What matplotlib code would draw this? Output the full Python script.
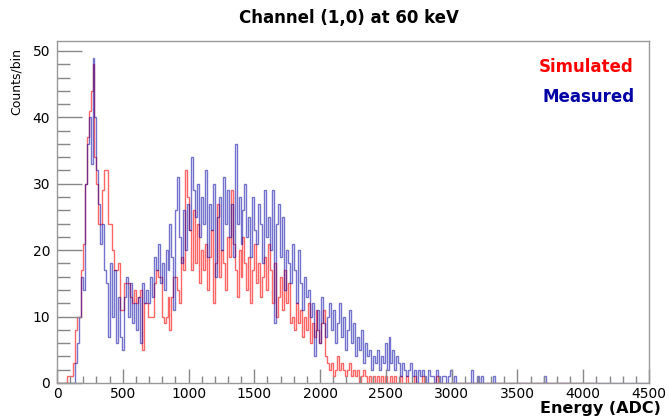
import numpy as np
import matplotlib
matplotlib.use("Agg")
import matplotlib.pyplot as plt
from matplotlib.ticker import MultipleLocator

# ---------------- data (counts per 15-ADC bin, starting at 0 ADC) ----------------
bin_width = 15
measured_counts = [
    0, 0, 0, 0, 0, 0, 0, 0, 0,
    3, 6, 10, 16, 14, 30, 36, 40, 33, 49,
    40, 32, 27, 21, 24, 17, 15, 7, 18, 10,
    17, 6, 13, 7, 5, 13, 16, 10, 15, 9,
    12, 8, 13, 6, 15, 12, 14, 12, 16, 13,
    19, 17, 21, 15, 18, 14, 20, 17, 24, 19,
    11, 26, 31, 22, 18, 26, 20, 27, 23, 34,
    29, 25, 30, 22, 28, 24, 32, 19, 27, 23,
    30, 16, 25, 28, 20, 31, 24, 29, 22, 27,
    19, 36, 24, 28, 21, 26, 30, 22, 25, 19,
    28, 23, 21, 27, 24, 18, 29, 22, 25, 20,
    29, 9, 24, 27, 19, 25, 14, 20, 18, 15,
    21, 17, 12, 20, 15, 11, 16, 13, 14, 10,
    12, 4, 8, 11, 6, 13, 9, 7, 10, 12,
    8, 11, 6, 9, 12, 7, 10, 5, 8, 11,
    6, 9, 4, 7, 5, 8, 3, 6, 4, 5,
    2, 4, 3, 5, 2, 4, 3, 6, 2, 7,
    3, 5, 2, 4, 3, 1, 3, 2, 1, 2,
    3, 1, 2, 0, 2, 1, 2, 1, 0, 2,
    1, 1, 0, 2, 1, 0, 1, 1, 0, 1,
    2, 0, 1, 0, 0, 0, 0, 0, 0, 0,
    0, 2, 0, 0, 1, 0, 1, 0, 0, 0,
    0, 0, 1, 0, 0, 0, 0, 0, 0, 0,
    0, 0, 0, 0, 0, 0, 0, 0, 0, 0,
    0, 0, 0, 0, 0, 0, 0, 0, 1, 0,
]
measured_range_max = 4500

simulated_counts = [
    0, 0, 0, 0, 0,
    1, 1, 1, 3, 8, 10, 10, 17, 21, 30,
    37, 41, 44, 48, 34, 30, 24, 24, 29, 32,
    32, 24, 24, 20, 17, 17, 18, 11, 11, 15,
    15, 15, 13, 12, 14, 12, 13, 14, 5, 12,
    12, 10, 10, 10, 15, 17, 16, 16, 10, 9,
    10, 13, 8, 13, 16, 16, 14, 12, 19, 17,
    32, 28, 23, 17, 26, 18, 24, 15, 20, 17,
    21, 14, 19, 23, 12, 18, 27, 16, 20, 18,
    14, 22, 19, 29, 21, 17, 13, 20, 16, 22,
    18, 14, 19, 12, 17, 21, 15, 18, 13, 16,
    19, 14, 21, 17, 12, 18, 10, 13, 16, 11,
    17, 12, 15, 9, 10, 8, 12, 9, 11, 7,
    10, 8, 12, 6, 9, 7, 11, 8, 6, 9,
    11, 4, 3, 2, 3, 1, 2, 4, 2, 3,
    2, 1, 2, 3, 1, 2, 1, 2, 0, 1,
    2, 1, 0, 1, 0, 1, 0, 1, 0, 1,
    0, 1, 0, 0, 1, 0, 1, 0, 0, 1,
    0, 0, 1, 0, 0, 0, 1, 0, 0, 0,
    1, 0, 0, 0, 0, 0, 0, 1, 0, 0,
]
simulated_range_max = 4110

title = "Channel (1,0) at 60 keV"
xlabel = "Energy (ADC)"
ylabel = "Counts/bin"
legend_labels = ["Simulated", "Measured"]

# ---------------- build full histograms ----------------
def full_hist(counts, range_max):
    nb = int(round(range_max / bin_width))
    vals = np.zeros(nb)
    vals[:len(counts)] = counts
    edges = np.arange(nb + 1) * bin_width
    return vals, edges

meas_vals, meas_edges = full_hist(measured_counts, measured_range_max)
sim_vals, sim_edges = full_hist(simulated_counts, simulated_range_max)

# ---------------- figure ----------------
W, H = 669, 418
fig = plt.figure(figsize=(W / 100, H / 100), dpi=100)
ax = fig.add_axes([57 / W, 1 - 383 / H, (649 - 57) / W, (383 - 41) / H])

red = (1.0, 0.0, 0.0)
blue = (0.0, 0.0, 0.65)
ax.stairs(sim_vals, sim_edges, color=red, alpha=0.6, lw=1.0, baseline=0)
ax.stairs(meas_vals, meas_edges, color=blue, alpha=0.55, lw=1.0, baseline=0)

ax.set_xlim(0, 4500)
ax.set_ylim(0, 51.5)

ax.xaxis.set_major_locator(MultipleLocator(500))
ax.xaxis.set_minor_locator(MultipleLocator(100))
ax.yaxis.set_major_locator(MultipleLocator(10))
ax.yaxis.set_minor_locator(MultipleLocator(2))
ax.tick_params(which="both", direction="in", top=False, right=False,
               colors="#888888", labelcolor="black", labelsize=10)
ax.tick_params(axis="x", which="major", length=10, width=1.0, pad=3)
ax.tick_params(axis="x", which="minor", length=5, width=1.0)
ax.tick_params(axis="y", which="major", length=18, width=1.0, pad=5)
ax.tick_params(axis="y", which="minor", length=9, width=1.0)
for sp in ax.spines.values():
    sp.set_color("#999999")
    sp.set_linewidth(1.0)

fig.text(349 / W, 1 - 18 / H, title, ha="center", va="center",
         fontsize=12, fontweight="bold")
fig.text(661 / W, 1 - 408 / H, xlabel, ha="right", va="center",
         fontsize=11.5, fontweight="bold")
fig.text(16 / W, 1 - 48 / H, ylabel, ha="center", va="top",
         rotation=90, fontsize=9)
fig.text(633 / W, 1 - 67 / H, legend_labels[0], ha="right", va="center",
         fontsize=12, fontweight="bold", color=red)
fig.text(635 / W, 1 - 97 / H, legend_labels[1], ha="right", va="center",
         fontsize=12, fontweight="bold", color=blue)

fig.savefig("out.png", dpi=100)
